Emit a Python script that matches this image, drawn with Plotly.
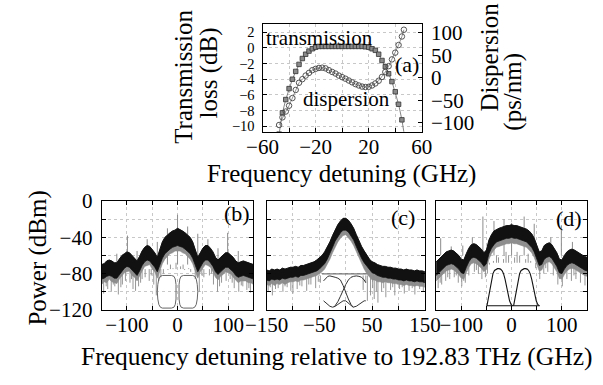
import plotly.graph_objects as go

W, H = 603, 385
FONT = "Liberation Serif"

# ---------------- panel (a) data ----------------
tr_x = [-47.5, -45, -42.5, -40, -37.5, -35, -32.5, -30, -27.5, -25, -22.5, -20, -17.5, -15, -12.5, -10, -7.5, -5, -2.5,
        0, 2.5, 5, 7.5, 10, 12.5, 15, 17.5, 20, 22.5, 25, 27.5, 30, 32.5, 35, 37.5, 40, 42.5, 45, 47.5]
tr_y = [-11.0, -8.3, -6.6, -5.2, -4.0, -3.0, -2.1, -1.35, -0.8, -0.4, -0.1, 0.1, 0.2, 0.2, 0.2, 0.2, 0.2, 0.2, 0.2,
        0.2, 0.2, 0.2, 0.2, 0.2, 0.2, 0.2, 0.15, 0.1, -0.1, -0.3, -0.8, -1.6, -2.4, -3.3, -4.3, -5.6, -7.2, -9.2, -11.8]
dp_x = [-47.5, -45, -42.5, -40, -37.5, -35, -32.5, -30, -27.5, -25, -22.5, -20, -17.5, -15, -12.5, -10, -7.5, -5, -2.5,
        0, 2.5, 5, 7.5, 10, 12.5, 15, 17.5, 20, 22.5, 25, 27.5, 30, 32.5, 35, 37.5, 40, 42.5, 45, 46.5]
dp_y = [-105, -88, -75, -62, -45, -27, -11, -3, 5, 11, 17, 20, 22, 22.5, 21, 17, 13, 9.5, 5,
        1.5, -2, -6, -10, -14, -17, -19.5, -20.5, -20, -17, -12.5, -6.5, 2, 13, 26, 41, 56, 73, 92, 107]

# ---------------- spectra (envelopes read every 5 GHz) ----------------
sx = list(range(-150, 155, 5))
b_up = [-70, -69, -66, -65, -66, -68, -68, -64, -60, -58, -56, -57, -60, -63, -66, -61, -55, -51, -49, -50, -53, -57, -62,
        -53, -45, -40, -37, -35, -33, -32, -30, -32, -33, -35, -37, -40, -45, -53, -62, -57, -52, -49, -49, -52, -56, -62,
        -65, -62, -59, -57, -57, -59, -62, -66, -68, -67, -66, -67, -68, -69, -70]
b_lo = [-86, -85, -83, -82, -83, -85, -85, -81, -77, -74, -72, -73, -76, -79, -82, -77, -71, -67, -65, -66, -69, -73, -78,
        -70, -63, -58, -55, -53, -51, -50, -49, -50, -51, -53, -55, -58, -63, -70, -78, -73, -68, -65, -65, -68, -72, -78,
        -81, -78, -75, -73, -73, -75, -78, -82, -84, -83, -82, -83, -84, -85, -86]
b_gr = [-92, -89, -90, -86, -89, -90, -91, -86, -83, -79, -78, -77, -82, -84, -88, -82, -77, -72, -71, -70, -75, -78, -85,
        -76, -69, -64, -61, -58, -57, -55, -55, -55, -57, -58, -61, -64, -69, -76, -85, -78, -74, -70, -71, -73, -78, -84,
        -87, -83, -81, -78, -79, -80, -84, -87, -90, -88, -88, -88, -90, -90, -92]

c_up = [-76, -77, -75, -76, -75, -76, -74, -75, -74, -73, -73, -72, -73, -71, -71, -70, -69, -68, -67, -65, -63, -60, -56,
        -51, -45, -38, -31, -26, -22, -19, -19, -21, -25, -30, -37, -44, -50, -55, -60, -64, -67, -68, -70, -71, -72, -72,
        -73, -73, -74, -74, -75, -75, -76, -75, -76, -76, -77, -76, -77, -77, -78]
c_lo = [-87, -88, -86, -87, -86, -87, -85, -86, -85, -84, -84, -83, -84, -82, -82, -81, -80, -79, -78, -77, -75, -72, -69,
        -64, -58, -51, -44, -39, -35, -32, -32, -34, -38, -43, -50, -57, -63, -68, -72, -76, -79, -80, -82, -83, -84, -84,
        -85, -85, -86, -86, -87, -87, -88, -87, -88, -88, -89, -88, -89, -89, -90]
c_gr = [-92, -93, -91, -93, -91, -92, -90, -92, -90, -89, -89, -88, -89, -87, -87, -86, -85, -84, -83, -82, -80, -78, -75,
        -70, -64, -57, -50, -45, -41, -38, -37, -40, -44, -49, -56, -63, -70, -75, -80, -84, -87, -87, -89, -89, -90, -89,
        -90, -90, -91, -91, -92, -92, -93, -92, -93, -93, -94, -93, -94, -94, -95]

d_up = [-67, -64, -61, -58, -56, -55, -54, -55, -57, -60, -64, -65, -58, -52, -48, -47, -48, -50, -53, -57, -54, -43, -37,
        -33, -31, -30, -29, -28, -27, -27, -26, -27, -27, -28, -29, -30, -31, -33, -36, -41, -48, -56, -55, -49, -47, -46,
        -48, -52, -57, -64, -65, -60, -56, -54, -53, -54, -56, -58, -60, -61, -62]
d_lo = [-82, -79, -76, -73, -71, -70, -69, -70, -72, -75, -79, -80, -73, -67, -63, -62, -63, -65, -68, -72, -69, -58, -52,
        -48, -45, -44, -43, -42, -41, -41, -40, -41, -41, -42, -43, -44, -45, -48, -51, -56, -63, -71, -70, -64, -62, -61,
        -63, -67, -72, -79, -80, -75, -71, -69, -68, -69, -71, -73, -75, -76, -77]
d_gr = [-88, -85, -82, -79, -77, -76, -75, -76, -78, -81, -85, -86, -79, -73, -69, -68, -69, -71, -74, -78, -75, -64, -58,
        -54, -51, -50, -49, -48, -47, -47, -46, -47, -47, -48, -49, -50, -51, -54, -57, -62, -69, -77, -76, -70, -68, -67,
        -69, -73, -78, -85, -86, -81, -77, -75, -74, -75, -77, -79, -81, -82, -83]

# comb lines above the band (b, d) and dips below it
b_spk_x = [-120, -99, -80, -60, -40, -20, 0, 20, 40, 60, 80, 99, 120]
b_spk_top = [-58, -38, -55, -42, -45, -30, -15, -28, -36, -42, -52, -35, -55]
d_spk_x = [-141, -120, -97, -78, -57, -35, -15, 0, 25, 45, 78, 99, 121]
d_spk_top = [-41, -50, -49, -40, -17, -22, -20, -24, -17, -25, -40, -27, -45]

b_dn_x = [-146, -141, -138, -131, -127, -124, -117, -112, -109, -103, -94, -91, -88, -83, -77, -73, -70, -64, -56, -52,
          -47, -42, -37, -33, -28, -19, -14, -9, -3, 6, 11, 14, 22, 26, 35, 39, 43, 48, 52, 63, 67, 71, 79, 83, 87, 96,
          104, 108, 112, 121, 126, 129, 137, 141, 144]
b_dn_bot = [-102, -94, -97, -100, -92, -94, -103, -95, -92, -88, -90, -86, -97, -99, -94, -90, -86, -84, -88, -82,
            -92, -104, -88, -84, -80, -76, -70, -74, -68, -72, -70, -76, -74, -78, -86, -84, -100, -82, -84, -82, -80,
            -92, -100, -94, -90, -88, -86, -90, -96, -100, -93, -94, -98, -96, -101]
c_dn_x = [-147, -143, -139, -133, -128, -119, -115, -111, -104, -100, -92, -87, -83, -74, -70, -66, -57, -52, -48, 33,
          38, 41, 47, 51, 54, 58, 61, 68, 72, 76, 85, 89, 93, 102, 107, 111, 120, 126, 131, 140, 147]
c_dn_bot = [-99, -95, -104, -97, -96, -100, -94, -95, -99, -102, -97, -93, -94, -99, -92, -92, -96, -89, -90, -98,
            -90, -110, -104, -96, -108, -100, -112, -100, -96, -106, -98, -95, -104, -97, -95, -102, -99, -96, -103,
            -97, -100]
d_dn_x = [-146, -142, -139, -131, -127, -123, -114, -110, -106, -99, -95, -92, -85, -74, -70, -66, -59, -52, -48, -44,
          -36, -30, -26, -16, -11, -6, 6, 11, 16, 28, 33, 38, 48, 56, 64, 68, 72, 83, 92, 96, 101, 110, 119, 124, 128,
          137, 146]
d_dn_bot = [-96, -90, -92, -88, -84, -86, -84, -82, -90, -94, -88, -90, -82, -78, -76, -80, -86, -84, -80, -70, -66,
            -60, -62, -64, -56, -60, -62, -56, -60, -64, -58, -66, -74, -86, -80, -74, -78, -82, -92, -86, -94, -86,
            -88, -82, -86, -90, -93]

# ---------------- filter sketches inside panels ----------------
b_f1_x = [-30, -12, -7, -4.5, -3, -2.5, -3, -4.5, -7, -12, -30, -34, -37, -39, -40, -39, -37, -34, -30]
b_f1_y = [-82, -82, -83, -86, -92, -100, -108, -114, -117, -118, -118, -117, -114, -108, -100, -92, -86, -83, -82]
b_f2_x = [30, 12, 7, 4.5, 3, 2.5, 3, 4.5, 7, 12, 30, 34, 37, 39, 40, 39, 37, 34, 30]
b_f2_y = [-82, -82, -83, -86, -92, -100, -108, -114, -117, -118, -118, -117, -114, -108, -100, -92, -86, -83, -82]

c_top_x = [-45, 40]
c_top_y = [-80.3, -80.3]
c_f1_x = [-42, -38, -34, -30, -25, -20, -15, -10, -5, 0, 5, 10, 14]
c_f1_y = [-88, -85, -83, -82.5, -83, -84, -85, -87, -93, -101, -108, -114, -117]
c_f2_x = [-22, -15, -10, -5, 0, 5, 10, 15, 20, 25, 30, 35, 38]
c_f2_y = [-117, -111, -105, -98, -92, -87, -84, -83, -82.5, -83, -84, -87, -90]
c_f3_x = [-42, -35, -30, -25, -20, -15, -10, -5, 0, 5, 10, 14, 20, 25, 30, 35, 38]
c_f3_y = [-110, -114, -116, -117, -116, -114, -112, -110, -110, -112, -115, -117, -116, -114, -112, -110, -110]

d_base_x = [-49, 55.5]
d_base_y = [-115.5, -115.5]
d_f1_x = [-49, -46, -43, -40, -37, -34, -31, -28, -25, -22, -19, -16, -13, -10, -7, -4, -1, 2]
d_f1_y = [-115.5, -106, -96, -87, -80, -76.5, -75, -74.5, -74.5, -75, -76.5, -80, -86, -94, -103, -110, -114, -115.5]
d_f2_x = [4, 7, 10, 13, 16, 19, 22, 25, 28, 31, 34, 37, 40, 43, 46, 49, 52, 55.5]
d_f2_y = [-115.5, -106, -96, -87, -80, -76.5, -75, -74.5, -74.5, -75, -76.5, -80, -86, -94, -103, -110, -114, -115.5]


def px(x, y):
    return x / W, 1 - y / H


fig = go.Figure()

# panel (a)
fig.add_trace(go.Scatter(x=tr_x, y=tr_y, mode="lines+markers", xaxis="x", yaxis="y",
                         line=dict(color="#666", width=0.8),
                         marker=dict(symbol="square", size=4.5, color="#8a8a8a", line=dict(color="#333", width=0.8))))
fig.add_trace(go.Scatter(x=dp_x, y=dp_y, mode="lines+markers", xaxis="x", yaxis="y2",
                         line=dict(color="#777", width=0.8),
                         marker=dict(symbol="circle-open", size=5.5, color="#444", line=dict(width=0.9))))


def vlines(xa, ya, xs, ends, base, color="#8c8c8c", width=1.0):
    X, Y = [], []
    for xv, tv in zip(xs, ends):
        X += [xv, xv, None]
        Y += [tv, base, None]
    fig.add_trace(go.Scatter(x=X, y=Y, mode="lines", line=dict(color=color, width=width),
                             xaxis=xa, yaxis=ya, hoverinfo="skip"))


def spectrum(xa, ya, up, lo, gr, dn_x, dn_bot, base):
    fig.add_trace(go.Scatter(x=sx, y=gr, mode="lines", line=dict(color="#8a8a8a", width=0.6),
                             xaxis=xa, yaxis=ya, hoverinfo="skip"))
    fig.add_trace(go.Scatter(x=sx, y=up, mode="lines", line=dict(color="#8a8a8a", width=0.6), fill="tonexty",
                             fillcolor="#8e8e8e", xaxis=xa, yaxis=ya, hoverinfo="skip"))
    vlines(xa, ya, dn_x, dn_bot, base, "#8a8a8a", 0.9)
    fig.add_trace(go.Scatter(x=sx, y=lo, mode="lines", line=dict(color="#111", width=0.8),
                             xaxis=xa, yaxis=ya, hoverinfo="skip"))
    fig.add_trace(go.Scatter(x=sx, y=up, mode="lines", line=dict(color="#111", width=1.0), fill="tonexty",
                             fillcolor="#111", xaxis=xa, yaxis=ya, hoverinfo="skip"))


def curve(xa, ya, xs, ys, color="#444", width=1.0):
    fig.add_trace(go.Scatter(x=xs, y=ys, mode="lines", line=dict(color=color, width=width),
                             xaxis=xa, yaxis=ya, hoverinfo="skip"))


vlines("x3", "y3", b_spk_x, b_spk_top, -70)
spectrum("x3", "y3", b_up, b_lo, b_gr, b_dn_x, b_dn_bot, -75)
curve("x3", "y3", b_f1_x, b_f1_y, "#555", 0.9)
curve("x3", "y3", b_f2_x, b_f2_y, "#555", 0.9)

spectrum("x4", "y4", c_up, c_lo, c_gr, c_dn_x, c_dn_bot, -82)
curve("x4", "y4", c_top_x, c_top_y, "#555", 1.0)
curve("x4", "y4", c_f1_x, c_f1_y, "#333", 1.0)
curve("x4", "y4", c_f2_x, c_f2_y, "#333", 1.0)
curve("x4", "y4", c_f3_x, c_f3_y, "#333", 1.0)

vlines("x5", "y5", d_spk_x, d_spk_top, -60)
spectrum("x5", "y5", d_up, d_lo, d_gr, d_dn_x, d_dn_bot, -68)
curve("x5", "y5", d_base_x, d_base_y, "#111", 1.1)
curve("x5", "y5", d_f1_x, d_f1_y, "#111", 1.1)
curve("x5", "y5", d_f2_x, d_f2_y, "#111", 1.1)

tickfont = dict(family=FONT, size=21, color="black")
common = dict(showline=True, linecolor="black", linewidth=1, ticks="inside", ticklen=4, tickcolor="black",
              zeroline=False, gridcolor="#c8c8c8", griddash="dot", gridwidth=1)
minor_style = dict(ticks="inside", ticklen=4, tickcolor="black", showgrid=True, gridcolor="#c8c8c8", griddash="dot")
XSO = -4   # x tick labels sit a bit closer to the axis
YSO = 4    # y tick labels a bit farther from the axis

ya_top, yb_top = 12.7, 127.7
ya_bot, yb_bot = 201.7, 317.7
dom_top = [1 - yb_top / H, 1 - ya_top / H]
dom_bot = [1 - yb_bot / H, 1 - ya_bot / H]
M = "\u2212"

fig.update_layout(
    width=W, height=H, margin=dict(l=0, r=0, t=0, b=0),
    paper_bgcolor="white", plot_bgcolor="white", showlegend=False,
    xaxis=dict(domain=[256.7 / W, 426.7 / W], range=[-60, 60], anchor="y", tickvals=[-60, -20, 20, 60],
               ticktext=[M + "60", M + "20", "20", "60"], mirror=True, showgrid=True, tickfont=tickfont,
               ticklabelstandoff=XSO, minor=dict(tickvals=[-40, 0, 40], **minor_style), **common),
    yaxis=dict(domain=dom_top, range=[-10.72, 3.08], anchor="x", tickvals=[2, 0, -2, -4, -6, -8, -10],
               ticktext=["2", "0", M + "2", M + "4", M + "6", M + "8", M + "10"], showgrid=True,
               ticklabelstandoff=YSO, tickfont=dict(family=FONT, size=14.5, color="black"), **common),
    yaxis2=dict(overlaying="y", side="right", anchor="x", range=[-120, 120], tickvals=[100, 50, 0, -50, -100],
                ticktext=["100", "50", "0", M + "50", M + "100"], showgrid=False, tickfont=tickfont,
                ticklabelstandoff=YSO, **common),
    xaxis3=dict(domain=[85 / W, 247 / W], range=[-150, 150], anchor="y3", tickvals=[-100, 0, 100],
                ticktext=[M + "100", "0", "100"], mirror="ticks", showgrid=True, tickfont=tickfont,
                ticklabelstandoff=XSO, minor=dict(tickvals=[-150, -50, 50, 150], **minor_style), **common),
    yaxis3=dict(domain=dom_bot, range=[-120, 0], anchor="x3", tickvals=[0, -40, -80, -120],
                ticktext=["0", M + "40", M + "80", M + "120"], mirror="ticks", showgrid=True, tickfont=tickfont,
                ticklabelstandoff=YSO, minor=dict(tickvals=[-20, -60, -100], **minor_style), **common),
    xaxis4=dict(domain=[261 / W, 430 / W], range=[-150, 150], anchor="y4", tickvals=[-150, -50, 50, 150],
                ticktext=[M + "150", M + "50", "50", "150"], mirror="ticks", showgrid=True, tickfont=tickfont,
                ticklabelstandoff=XSO, minor=dict(tickvals=[-100, 0, 100], **minor_style), **common),
    yaxis4=dict(domain=dom_bot, range=[-120, 0], anchor="x4", tickvals=[0, -40, -80, -120], showticklabels=False,
                mirror="ticks", showgrid=True, minor=dict(tickvals=[-20, -60, -100], **minor_style), **common),
    xaxis5=dict(domain=[442 / W, 1.0], range=[-150, 150], anchor="y5", tickvals=[-100, 0, 100],
                ticktext=[M + "100", "0", "100"], mirror="ticks", showgrid=True, tickfont=tickfont,
                ticklabelstandoff=XSO, minor=dict(tickvals=[-150, -50, 50, 150], **minor_style), **common),
    yaxis5=dict(domain=dom_bot, range=[-120, 0], anchor="x5", tickvals=[0, -40, -80, -120], showticklabels=False,
                mirror="ticks", showgrid=True, minor=dict(tickvals=[-20, -60, -100], **minor_style), **common),
)


def label(text, x, y, size, angle=0):
    ax, ay = px(x, y)
    fig.add_annotation(text=text, x=ax, y=ay, xref="paper", yref="paper", showarrow=False, textangle=angle,
                       xanchor="center", yanchor="middle", font=dict(family=FONT, size=size, color="black"))


label("transmission", 318, 27.5, 21)
label("dispersion", 346, 93, 21)
label("(a)", 411, 56, 22)
label("(b)", 229, 215, 22)
label("(c)", 407, 219, 22)
label("(d)", 584, 220, 22)
label("Transmission", 173, 69, 25, -90)
label("loss (dB)", 199, 65, 25, -90)
label("Dispersion", 498, 48, 25, -90)
label("(ps/nm)", 524, 85, 25, -90)
label("Frequency detuning (GHz)", 341, 173, 25)
label("Power (dBm)", 17, 262, 25, -90)
label("Frequency detuning relative to 192.83 THz (GHz)", 336, 367, 25.5)

fig.write_html("out.html", config={"displayModeBar": False},
               post_script="document.body.style.margin='0px';")
